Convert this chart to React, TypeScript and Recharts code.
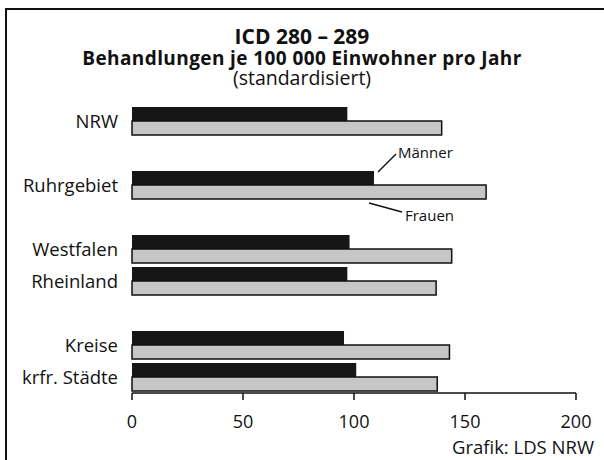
import { BarChart, Bar, XAxis, YAxis } from 'recharts';

// row slots, the "gap" entries are empty rows that space out the groups
const slots = ['NRW', 'gap1', 'Ruhrgebiet', 'gap2', 'Westfalen', 'Rheinland', 'gap3', 'Kreise', 'krfr. Städte'];
const maenner = [97, null, 109, null, 98, 97, null, 95.5, 101];
const frauen = [139.5, null, 159.5, null, 144, 137, null, 143, 137.5];
const xTicks = [0, 50, 100, 150, 200];

const labels = slots.filter((s) => !s.startsWith('gap'));
const data = slots.map((name, i) => ({ name, maenner: maenner[i], frauen: frauen[i] }));

const font = "'Open Sans', sans-serif";

export default function App() {
  return (
    <div style={{ position: 'absolute', left: 0, top: 0, width: 604, height: 460, background: '#fff', fontFamily: font, color: '#111', overflow: 'hidden' }}>
      {/* frame: only left and top edges are visible */}
      <div style={{ position: 'absolute', left: 5, top: 8, width: 620, height: 480, borderLeft: '2px solid #111', borderTop: '2px solid #111' }} />

      <div style={{ position: 'absolute', left: 0, width: 604, top: 24, textAlign: 'center', fontSize: 21, fontWeight: 700, lineHeight: '24px' }}>
        ICD 280 – 289
      </div>
      <div style={{ position: 'absolute', left: 0, width: 604, top: 48, textAlign: 'center', fontSize: 19, fontWeight: 700, lineHeight: '20px', letterSpacing: 0.4 }}>
        Behandlungen je 100 000 Einwohner pro Jahr
      </div>
      <div style={{ position: 'absolute', left: 0, width: 604, top: 68, textAlign: 'center', fontSize: 19.5, lineHeight: '20px' }}>
        (standardisiert)
      </div>

      <BarChart
        width={604}
        height={460}
        layout="vertical"
        data={data}
        margin={{ top: 105, right: 28, bottom: 0, left: 0 }}
        barGap={0}
        style={{ position: 'absolute', left: 0, top: 0 }}
      >
        <XAxis
          type="number"
          domain={[0, 200]}
          ticks={xTicks}
          height={67}
          stroke="#111"
          axisLine={{ stroke: '#111', strokeWidth: 1.5 }}
          tickLine={{ stroke: '#111', strokeWidth: 1.5 }}
          tickSize={7}
          tickMargin={15}
          tick={{ fill: '#111', fontSize: 18, fontFamily: font }}
        />
        <YAxis
          type="category"
          dataKey="name"
          ticks={labels}
          width={132}
          axisLine={false}
          tickLine={false}
          tickSize={0}
          tickMargin={14}
          tick={{ fill: '#111', fontSize: 18.5, fontFamily: font }}
        />
        <Bar dataKey="maenner" barSize={14} fill="#161616" isAnimationActive={false} />
        <Bar dataKey="frauen" barSize={14} fill="#c6c6c6" stroke="#111" strokeWidth={1.5} isAnimationActive={false} />
      </BarChart>

      {/* series annotations */}
      <svg width={604} height={460} style={{ position: 'absolute', left: 0, top: 0, pointerEvents: 'none' }}>
        <line x1={378} y1={172} x2={396} y2={154} stroke="#111" strokeWidth={1.5} />
        <line x1={369} y1={203} x2={402} y2={212} stroke="#111" strokeWidth={1.5} />
      </svg>
      <div style={{ position: 'absolute', left: 398, top: 142, fontSize: 15, lineHeight: '20px' }}>Männer</div>
      <div style={{ position: 'absolute', left: 405, top: 205, fontSize: 15, lineHeight: '20px' }}>Frauen</div>

      <div style={{ position: 'absolute', right: 10, top: 436, fontSize: 18.5, lineHeight: '22px' }}>Grafik: LDS NRW</div>
    </div>
  );
}
